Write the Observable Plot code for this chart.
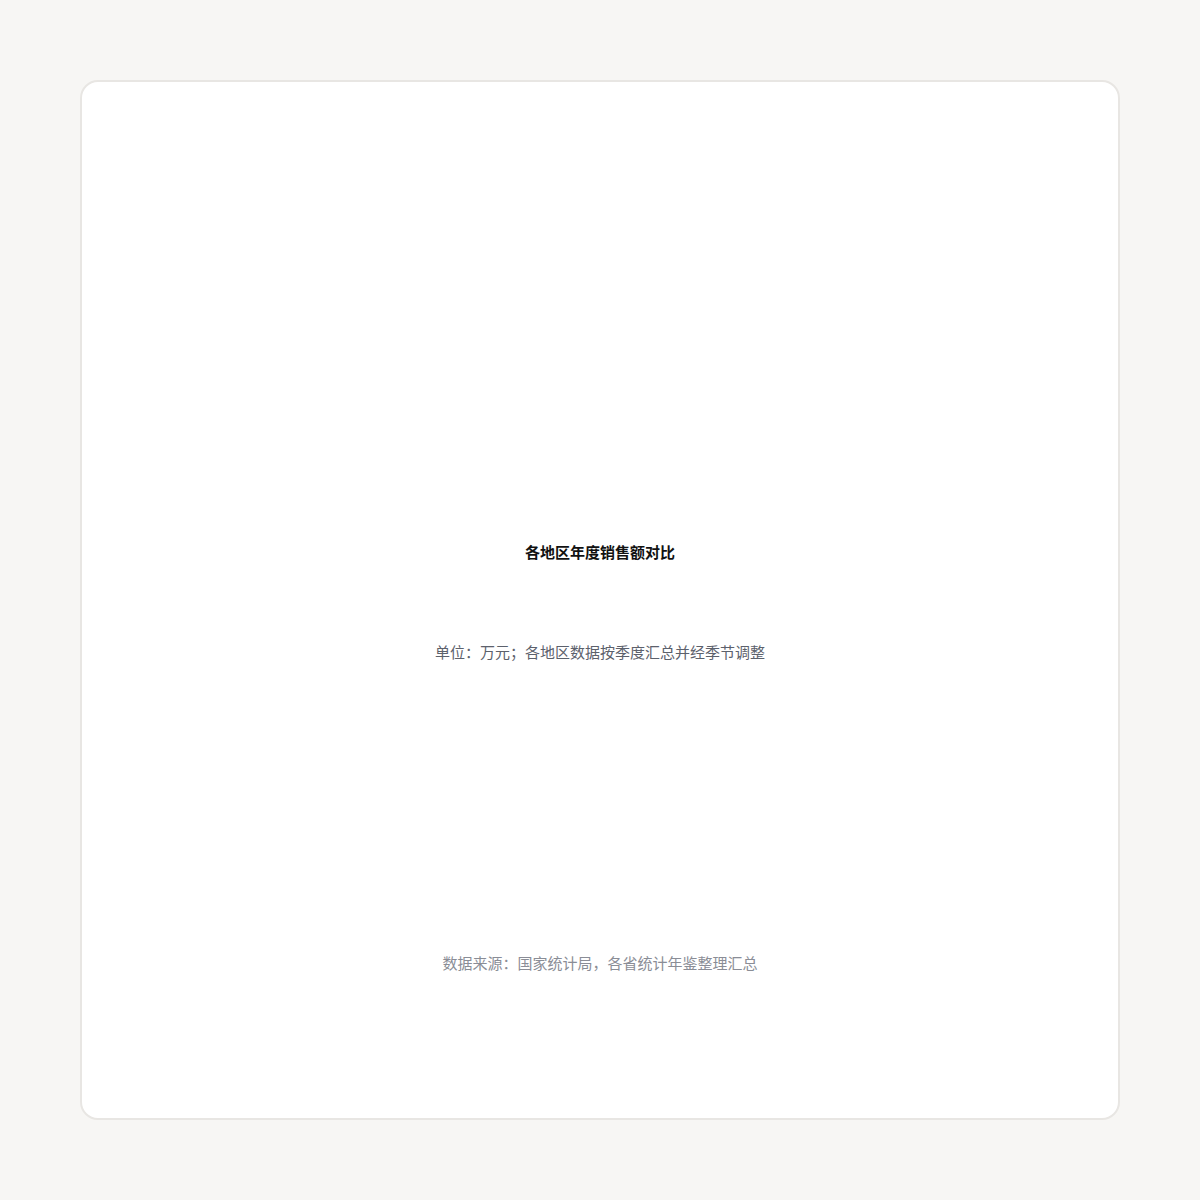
<!DOCTYPE html>
<html>
<head>
<meta charset="utf-8">
<script src="https://cdn.jsdelivr.net/npm/d3@7"></script>
<script src="https://cdn.jsdelivr.net/npm/@observablehq/plot@0.6"></script>
<style>
  html, body { margin: 0; padding: 0; background: #f7f6f4; }
  body { width: 1200px; height: 1200px; position: relative; font-family: "Noto Sans CJK SC", "DejaVu Sans", sans-serif; }
  .card {
    position: absolute; left: 80px; top: 80px; width: 1040px; height: 1040px;
    box-sizing: border-box; border: 2px solid #e8e6e3; border-radius: 18px; background: #fff;
    padding-top: 460px; text-align: center;
  }
  .title { font-size: 15px; line-height: 20px; font-weight: bold; color: #111; }
  .subtitle { font-size: 15px; line-height: 20px; color: #5c616c; margin-top: 80px; }
  .caption { font-size: 15px; line-height: 20px; color: #8a8d96; }
  #chart { height: 291px; display: flex; justify-content: center; }
</style>
</head>
<body>
<div class="card">
  <div class="title" id="title"></div>
  <div class="subtitle" id="subtitle"></div>
  <div id="chart"></div>
  <div class="caption" id="caption"></div>
</div>
<script>
const titleText = "各地区年度销售额对比";
const subtitleText = "单位：万元；各地区数据按季度汇总并经季节调整";
const captionText = "数据来源：国家统计局，各省统计年鉴整理汇总";
// No marks are visible in the reference: the series are empty.
const categories = [];
const values = [];

document.getElementById("title").textContent = titleText;
document.getElementById("subtitle").textContent = subtitleText;
document.getElementById("caption").textContent = captionText;

const data = categories.map((c, i) => ({category: c, value: values[i]}));
const chart = Plot.plot({
  width: 1000,
  height: 291,
  axis: null,
  marks: [
    Plot.barY(data, {x: "category", y: "value", fill: "#4c78a8"})
  ]
});
document.getElementById("chart").appendChild(chart);
</script>
</body>
</html>
